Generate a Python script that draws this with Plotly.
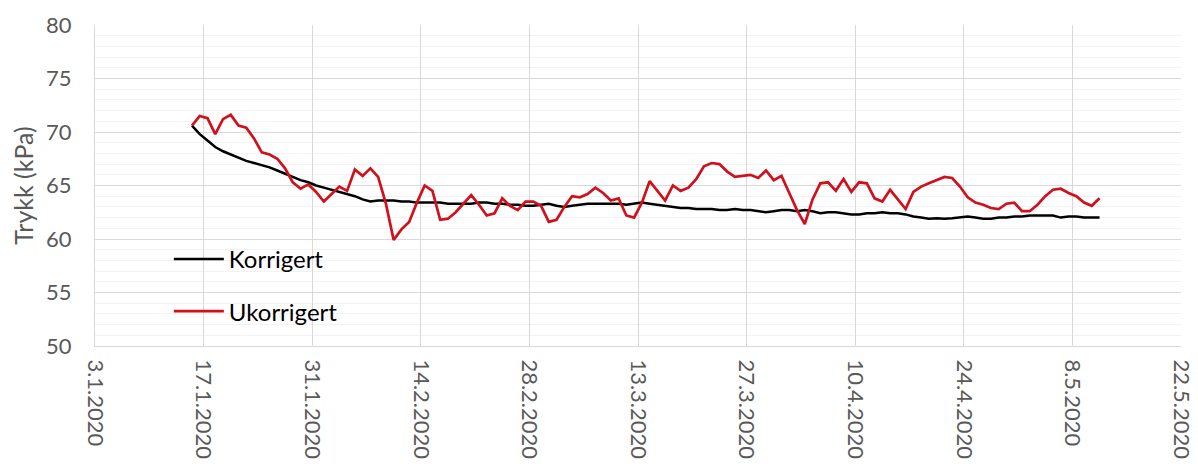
import pandas as pd
import plotly.graph_objects as go

# daglige verdier, fra 15.1.2020 kl 12
start_dato = "2020-01-15 12:00"

korrigert = [
    70.6, 69.8, 69.2, 68.6, 68.2, 67.9, 67.6, 67.3, 67.1, 66.9,
    66.7, 66.4, 66.1, 65.8, 65.5, 65.3, 65.0, 64.8, 64.6, 64.4,
    64.2, 64.0, 63.7, 63.5, 63.6, 63.6, 63.6, 63.5, 63.5, 63.4,
    63.4, 63.4, 63.4, 63.3, 63.3, 63.3, 63.3, 63.4, 63.4, 63.3,
    63.3, 63.2, 63.2, 63.1, 63.1, 63.2, 63.3, 63.1, 63.0, 63.1,
    63.2, 63.3, 63.3, 63.3, 63.3, 63.3, 63.2, 63.3, 63.4, 63.3,
    63.2, 63.1, 63.0, 62.9, 62.9, 62.8, 62.8, 62.8, 62.7, 62.7,
    62.8, 62.7, 62.7, 62.6, 62.5, 62.6, 62.7, 62.7, 62.6, 62.7,
    62.6, 62.4, 62.5, 62.5, 62.4, 62.3, 62.3, 62.4, 62.4, 62.5,
    62.4, 62.4, 62.3, 62.1, 62.0, 61.9, 61.95, 61.9, 61.95, 62.0,
    62.1, 62.0, 61.9, 61.9, 62.0, 62.0, 62.1, 62.1, 62.2, 62.2,
    62.2, 62.2, 62.0, 62.1, 62.1, 62.0, 62.0, 62.0,
]

ukorrigert = [
    70.6, 71.5, 71.3, 69.8, 71.2, 71.6, 70.6, 70.4, 69.4, 68.1,
    67.9, 67.5, 66.6, 65.3, 64.7, 65.1, 64.4, 63.5, 64.2, 64.9,
    64.5, 66.5, 65.9, 66.6, 65.8, 63.3, 59.9, 60.9, 61.6, 63.4,
    65.0, 64.5, 61.8, 61.9, 62.5, 63.3, 64.1, 63.2, 62.2, 62.4,
    63.8, 63.1, 62.7, 63.5, 63.5, 63.1, 61.6, 61.8, 63.0, 64.0,
    63.9, 64.2, 64.8, 64.3, 63.6, 63.8, 62.2, 62.0, 63.4, 65.4,
    64.5, 63.6, 65.0, 64.5, 64.8, 65.6, 66.8, 67.1, 67.0, 66.3,
    65.8, 65.9, 66.0, 65.7, 66.4, 65.5, 65.9, 64.3, 62.7, 61.4,
    63.7, 65.2, 65.3, 64.5, 65.6, 64.4, 65.3, 65.2, 63.8, 63.5,
    64.6, 63.7, 62.8, 64.4, 64.9, 65.2, 65.5, 65.8, 65.7, 64.9,
    63.9, 63.4, 63.2, 62.9, 62.8, 63.3, 63.4, 62.6, 62.6, 63.2,
    64.0, 64.6, 64.7, 64.3, 64.0, 63.4, 63.1, 63.8,
]

datoer = pd.date_range(start_dato, periods=len(ukorrigert), freq="D")

y_ticks = [50, 55, 60, 65, 70, 75, 80]
x_range = ["2020-01-03", "2020-05-22"]

font = "Lato, Open Sans, sans-serif"
grå = "#595959"

fig = go.Figure()
fig.add_trace(go.Scatter(x=datoer, y=korrigert, mode="lines", name="Korrigert",
                         line=dict(color="black", width=2.5), legendgroup="a"))
fig.add_trace(go.Scatter(x=datoer, y=ukorrigert, mode="lines", name="Ukorrigert",
                         line=dict(color="#D0101C", width=2.7), legendgroup="b"))

# siden har 8 px marg i body, derfor litt mindre figur
fig.update_layout(
    width=1190, height=458,
    margin=dict(l=87, r=17, t=17, b=120),
    plot_bgcolor="white", paper_bgcolor="white",
    font=dict(family=font, color=grå, size=22),
    legend=dict(x=0.068, y=0.34, xanchor="left", yanchor="top",
                bgcolor="rgba(0,0,0,0)", tracegroupgap=18,
                font=dict(size=24, color="black"), itemwidth=50),
    showlegend=True,
)
fig.update_xaxes(
    type="date", range=x_range, tick0="2020-01-03", dtick=14 * 86400000,
    tickformat="%-d.%-m.%Y", tickangle=90, ticks="", automargin=False,
    ticklabelstandoff=8,
    showgrid=True, gridcolor="#d9d9d9", gridwidth=1,
    showline=True, linecolor="#d9d9d9", linewidth=1,
    tickfont=dict(size=22, color=grå), zeroline=False,
)
fig.update_yaxes(
    range=[50, 80], tickvals=y_ticks, ticks="", automargin=False,
    ticklabelstandoff=18,
    showgrid=True, gridcolor="#d9d9d9", gridwidth=1,
    minor=dict(dtick=1, showgrid=True, gridcolor="#f2f2f2", gridwidth=1),
    showline=True, linecolor="#d9d9d9", linewidth=1, mirror=False,
    title=dict(text="Trykk (kPa)", font=dict(size=25, color=grå), standoff=10),
    tickfont=dict(size=22, color=grå), zeroline=False,
)

fig.write_html("out.html")
